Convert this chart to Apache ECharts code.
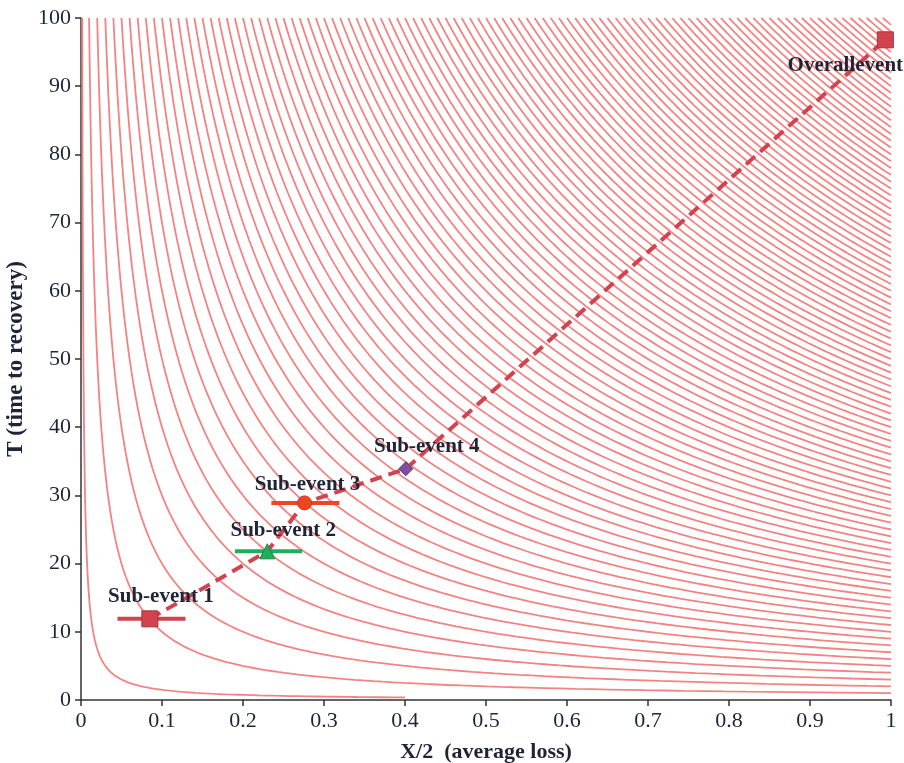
<!DOCTYPE html>
<html>
<head>
<meta charset="utf-8">
<script src="https://cdn.jsdelivr.net/npm/echarts@6/dist/echarts.min.js"></script>
<style>html,body{margin:0;padding:0;background:#fff}#c{width:904px;height:763px}</style>
</head>
<body>
<div id="c"></div>
<script>
// Iso-curves T = c / x  (levels c)
const curveLevels = [0.15, 1, 2, 3, 4, 5, 6, 7, 8, 9, 10, 11, 12, 13, 14, 15, 16, 17, 18, 19, 20,
  21, 22, 23, 24, 25, 26, 27, 28, 29, 30, 31, 32, 33, 34, 35, 36, 37, 38, 39, 40,
  41, 42, 43, 44, 45, 46, 47, 48, 49, 50, 51, 52, 53, 54, 55, 56, 57, 58, 59, 60,
  61, 62, 63, 64, 65, 66, 67, 68, 69, 70, 71, 72, 73, 74, 75, 76, 77, 78, 79, 80,
  81, 82, 83, 84, 85, 86, 87, 88, 89, 90, 91, 92, 93, 94, 95, 96, 97, 98, 99, 100];
const lowestCurveXMax = 0.4;

// Events
const eventNames = ['Sub-event 1', 'Sub-event 2', 'Sub-event 3', 'Sub-event 4', 'Overallevent'];
const eventX = [0.085, 0.23, 0.276, 0.401, 0.993];
const eventT = [11.9, 21.8, 28.9, 33.9, 96.8];
const errLow = [0.045, 0.19, 0.235, null, null];
const errHigh = [0.129, 0.273, 0.319, null, null];

const xTicks = ['0', '0.1', '0.2', '0.3', '0.4', '0.5', '0.6', '0.7', '0.8', '0.9', '1'];

const serif = '"Liberation Serif", "Times New Roman", serif';
const evColors = ['#d2434f', '#1fae5a', '#f0451f', '#7d4fa3', '#d2434f'];
const evBorders = ['#a8323c', '#138a44', '#c8361a', '#5d3680', '#a8323c'];
const evSymbols = ['rect', 'triangle', 'circle', 'diamond', 'rect'];
const evSizes = [16, 15, 14, 14, 16];
const labelOffsets = [[11, -22], [16, -21], [3, -18], [21, -22], [-40, 26]];

const series = [];
curveLevels.forEach((c, i) => {
  const x0 = c / 100;
  const x1 = i === 0 ? lowestCurveXMax : 1;
  const n = 140;
  const pts = [];
  for (let k = 0; k <= n; k++) {
    const x = x0 * Math.pow(x1 / x0, k / n);
    pts.push([x, c / x]);
  }
  series.push({
    type: 'line', data: pts, showSymbol: false, silent: true, smooth: false,
    lineStyle: { color: '#f38383', width: 1.8 }, z: 1
  });
});

// dashed path through events
series.push({
  type: 'line', data: eventX.map((x, i) => [x, eventT[i]]), showSymbol: false, silent: true,
  lineStyle: { color: '#d2434f', width: 4, type: [12, 7] }, z: 3
});

// error bars
eventX.forEach((x, i) => {
  if (errLow[i] == null) return;
  series.push({
    type: 'line', data: [[errLow[i], eventT[i]], [errHigh[i], eventT[i]]], showSymbol: false, silent: true,
    lineStyle: { color: evColors[i], width: 4 }, z: 4
  });
});

// markers with labels
eventX.forEach((x, i) => {
  series.push({
    type: 'scatter', data: [[x, eventT[i]]], symbol: evSymbols[i], symbolSize: evSizes[i],
    itemStyle: { color: evColors[i], borderColor: evBorders[i], borderWidth: 1, opacity: 1 },
    label: {
      show: true, position: 'inside', offset: labelOffsets[i], formatter: eventNames[i],
      fontFamily: serif, fontWeight: 'bold', fontSize: 21, color: '#1d2536'
    },
    z: 5
  });
});

const chart = echarts.init(document.getElementById('c'), null, { renderer: 'canvas' });
chart.setOption({
  animation: false,
  backgroundColor: '#ffffff',
  grid: { left: 81, right: 13, top: 18, bottom: 63, containLabel: false, outerBoundsMode: 'none' },
  xAxis: {
    type: 'value', min: 0, max: 1, interval: 0.1,
    name: 'X/2  (average loss)', nameLocation: 'middle', nameGap: 41,
    nameTextStyle: { fontFamily: serif, fontWeight: 'bold', fontSize: 22, color: '#1d2536' },
    axisLine: { show: true, onZero: false, lineStyle: { color: '#333', width: 1.5 } },
    axisTick: { show: true, length: 6, lineStyle: { color: '#333', width: 1.5 } },
    axisLabel: { fontFamily: serif, fontSize: 22, color: '#1d2536', margin: 10,
      formatter: (v) => xTicks[Math.round(v * 10)] },
    splitLine: { show: false }
  },
  yAxis: {
    type: 'value', min: 0, max: 100, interval: 10,
    name: 'T (time to recovery)', nameLocation: 'middle', nameGap: 50, nameRotate: 90,
    nameTextStyle: { fontFamily: serif, fontWeight: 'bold', fontSize: 23, color: '#1d2536' },
    axisLine: { show: true, lineStyle: { color: '#333', width: 1.5 } },
    axisTick: { show: true, length: 6, lineStyle: { color: '#333', width: 1.5 } },
    axisLabel: { fontFamily: serif, fontSize: 22, color: '#1d2536', margin: 10 },
    splitLine: { show: false }
  },
  series: series
});
</script>
</body>
</html>
